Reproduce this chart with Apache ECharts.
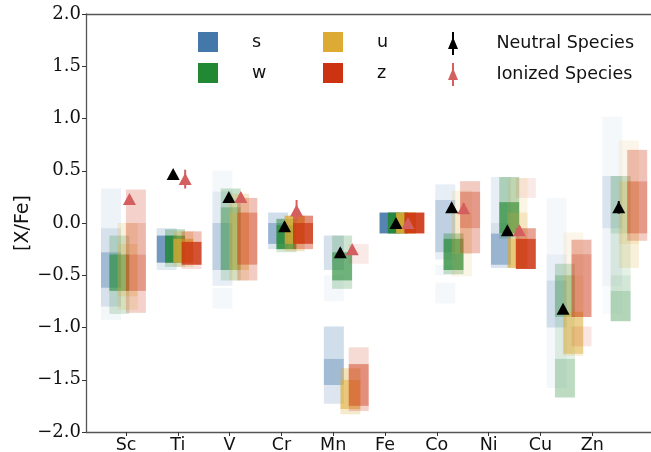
<!DOCTYPE html>
<html><head><meta charset="utf-8">
<script src="https://cdn.jsdelivr.net/npm/echarts@6/dist/echarts.min.js"></script>
<style>html,body{margin:0;padding:0;background:#fff}#c{width:651px;height:452px}</style>
</head><body><div id="c"></div>
<script>
// ---------------- data ----------------
const elements = ['Sc','Ti','V','Cr','Mn','Fe','Co','Ni','Cu','Zn'];
const bandNames = ['s','w','u','z'];
const bandColors = ['#4477AA','#228833','#DDAA33','#CC3311'];
const yTicks = [-2.0,-1.5,-1.0,-0.5,0.0,0.5,1.0,1.5,2.0];

// distribution segments per element: [top, bottom, density]
const sSegs = [
  [[0.33,-0.05,0.09],[-0.05,-0.28,0.22],[-0.28,-0.62,0.5],[-0.62,-0.8,0.22],[-0.8,-0.93,0.06]],
  [[-0.05,-0.12,0.2],[-0.12,-0.38,0.75],[-0.38,-0.45,0.15]],
  [[0.5,0.3,0.05],[0.3,0.0,0.15],[0.0,-0.45,0.35],[-0.45,-0.6,0.12],[-0.62,-0.82,0.05]],
  [[0.1,0.0,0.25],[0.0,-0.2,0.55],[-0.2,-0.25,0.2]],
  [[-0.12,-0.45,0.22],[-0.5,-0.75,0.05],[-0.99,-1.3,0.25],[-1.3,-1.55,0.5],[-1.55,-1.73,0.18]],
  [[0.1,-0.1,0.9]],
  [[0.37,0.22,0.12],[0.22,-0.28,0.35],[-0.28,-0.35,0.12],[-0.4,-0.5,0.05],[-0.57,-0.77,0.05]],
  [[0.44,0.0,0.12],[0.0,-0.1,0.22],[-0.1,-0.4,0.55],[-0.4,-0.43,0.2]],
  [[0.24,-0.3,0.05],[-0.3,-0.55,0.12],[-0.55,-1.0,0.25],[-1.0,-1.58,0.05]],
  [[1.02,0.45,0.05],[0.45,-0.05,0.2],[-0.05,-0.6,0.08],[-0.6,-0.87,0.04]]
];
const wSegs = [
  [[-0.12,-0.3,0.22],[-0.3,-0.65,0.65],[-0.65,-0.87,0.18]],
  [[-0.06,-0.12,0.3],[-0.12,-0.38,0.85],[-0.38,-0.42,0.2]],
  [[0.33,0.15,0.25],[0.15,-0.45,0.5],[-0.45,-0.55,0.18]],
  [[0.04,-0.02,0.5],[-0.02,-0.25,0.85],[-0.25,-0.28,0.2]],
  [[-0.12,-0.28,0.22],[-0.28,-0.55,0.65],[-0.55,-0.63,0.22]],
  [[0.1,-0.1,0.9]],
  [[-0.1,-0.15,0.35],[-0.15,-0.45,0.75],[-0.45,-0.49,0.25]],
  [[0.44,0.2,0.3],[0.2,-0.1,0.75],[-0.1,-0.15,0.2]],
  [[-0.39,-0.5,0.22],[-0.5,-0.9,0.4],[-0.9,-1.3,0.12],[-1.3,-1.67,0.3]],
  [[0.45,-0.1,0.25],[-0.1,-0.5,0.12],[-0.5,-0.65,0.2],[-0.65,-0.94,0.35]]
];
const uSegs = [
  [[0.0,-0.2,0.18],[-0.2,-0.7,0.35],[-0.7,-0.83,0.18]],
  [[-0.08,-0.15,0.3],[-0.15,-0.38,0.8],[-0.38,-0.42,0.2]],
  [[0.28,0.1,0.25],[0.1,-0.45,0.45],[-0.45,-0.55,0.18]],
  [[0.07,-0.2,0.8],[-0.2,-0.27,0.3]],
  [[-1.39,-1.5,0.35],[-1.5,-1.78,0.65],[-1.78,-1.83,0.25]],
  [[0.1,-0.1,0.9]],
  [[0.31,0.1,0.12],[0.1,-0.3,0.25],[-0.3,-0.51,0.12]],
  [[0.43,0.1,0.12],[0.1,-0.15,0.3],[-0.15,-0.43,0.65]],
  [[-0.09,-0.5,0.1],[-0.5,-0.85,0.22],[-0.85,-1.25,0.55],[-1.25,-1.27,0.2]],
  [[0.79,0.4,0.1],[0.4,-0.2,0.3],[-0.2,-0.43,0.18]]
];
const zSegs = [
  [[0.32,0.0,0.22],[0.0,-0.3,0.35],[-0.3,-0.65,0.5],[-0.65,-0.86,0.22]],
  [[-0.08,-0.18,0.3],[-0.18,-0.4,0.85],[-0.4,-0.44,0.15]],
  [[0.24,0.1,0.3],[0.1,-0.4,0.55],[-0.4,-0.55,0.25]],
  [[0.07,0.0,0.55],[0.0,-0.2,0.85],[-0.2,-0.25,0.4]],
  [[-0.2,-0.39,0.1],[-1.19,-1.35,0.18],[-1.35,-1.75,0.55],[-1.75,-1.8,0.22]],
  [[0.1,-0.1,0.9]],
  [[0.4,0.3,0.25],[0.3,-0.05,0.5],[-0.05,-0.29,0.3]],
  [[0.43,0.24,0.1],[-0.05,-0.15,0.45],[-0.15,-0.44,0.85]],
  [[-0.16,-0.3,0.35],[-0.3,-0.9,0.5],[-0.99,-1.18,0.12]],
  [[0.7,0.4,0.3],[0.4,-0.1,0.5],[-0.1,-0.17,0.25]]
];
const neutral    = [null, 0.47, 0.25, -0.03, -0.28, 0.0, 0.15, -0.07, -0.82, 0.15];
const neutralErr = [null, 0.02, 0.03, 0.04, 0.04, 0.02, 0.04, 0.03, 0.03, 0.06];
const ionized    = [0.23, 0.42, 0.25, 0.12, -0.25, 0.0, 0.14, -0.07, null, null];
const ionizedErr = [0.02, 0.09, 0.04, 0.10, 0.03, 0.02, 0.05, 0.04, null, null];

// ---------------- layout (not data) ----------------
const GROUP_STEP = 1.0753, GROUP_SHIFT = -0.049, COL_STEP = 0.16, COL_W = 0.386;
const NEU_OFF = -0.116, ION_OFF = 0.116;
const ION_COLOR = '#d35f5f';
const allSegs = [sSegs, wSegs, uSegs, zSegs];

function rgba(hex, a){
  const n = parseInt(hex.slice(1),16);
  return 'rgba('+((n>>16)&255)+','+((n>>8)&255)+','+(n&255)+','+a+')';
}

const series = [];
allSegs.forEach((segs, b) => {
  const data = [];
  segs.forEach((list, i) => list.forEach(s => data.push([i, s[0], s[1], s[2]])));
  series.push({
    name: bandNames[b], type: 'custom', itemStyle: {color: bandColors[b]},
    encode: {x: 0, y: [1,2]}, silent: true, z: 2 + b,
    renderItem: function(params, api){
      const i = api.value(0), top = api.value(1), bot = api.value(2), d = api.value(3);
      const xc = i*GROUP_STEP + GROUP_SHIFT + (b-1.5)*COL_STEP;
      const p1 = api.coord([xc - COL_W/2, top]);
      const p2 = api.coord([xc + COL_W/2, bot]);
      return {type:'rect', shape:{x:p1[0], y:p1[1], width:p2[0]-p1[0], height:p2[1]-p1[1]},
              style:{fill: rgba(bandColors[b], d)}};
    },
    data: data
  });
});

function errSeries(vals, errs, off, color){
  const data = [];
  vals.forEach((v,i)=>{ if(v!==null) data.push([i, v, errs[i]]); });
  return {type:'custom', silent:true, z: 8, encode:{x:0,y:1},
    renderItem: function(params, api){
      const i = api.value(0), v = api.value(1), e = api.value(2);
      const x = i*GROUP_STEP + GROUP_SHIFT + off;
      const a = api.coord([x, v+e]), c = api.coord([x, v-e]);
      return {type:'line', shape:{x1:a[0],y1:a[1],x2:c[0],y2:c[1]}, style:{stroke:color, lineWidth:2}};
    }, data: data};
}
function ptSeries(name, vals, off, color){
  const data = [];
  vals.forEach((v,i)=>{ if(v!==null) data.push([i*GROUP_STEP + GROUP_SHIFT + off, v]); });
  return {name:name, type:'scatter', symbol:'triangle', symbolSize:[13,12], z: 10,
    itemStyle:{color:color, opacity:1}, silent:true, data:data};
}
series.push(errSeries(neutral, neutralErr, NEU_OFF, '#000'));
series.push(errSeries(ionized, ionizedErr, ION_OFF, ION_COLOR));
series.push(ptSeries('Neutral Species', neutral, NEU_OFF, '#000'));
series.push(ptSeries('Ionized Species', ionized, ION_OFF, ION_COLOR));

const triIcon = 'path://M4,0L6,0L6,23L4,23Z M5,5L10,17L0,17Z';
const legText = {fontFamily:'DejaVu Sans', fontSize:17.5, color:'#111'};
function legend(names, left, pad, iw, ih, gap, icon){
  return {orient:'vertical', left:left, top:32, padding:0, itemWidth:iw, itemHeight:ih, itemGap:gap,
    icon:icon, selectedMode:false, data:names,
    formatter: n => '{a|'+n+'}',
    textStyle: Object.assign({}, legText, {rich:{a:Object.assign({}, legText, {padding:[0,0,0,pad]})}})};
}

const axisLineStyle = {color:'#555', width:1.3};
const option = {
  animation:false,
  grid:{left:86, right:0, top:14, bottom:20, containLabel:false, outerBoundsMode:'none'},
  legend:[
    legend(['s','w'], 198, 29, 20, 20, 11, 'rect'),
    legend(['u','z'], 323, 29, 20, 20, 11, 'rect'),
    legend(['Neutral Species','Ionized Species'], 448, 33, 11, 23, 8, triIcon)
  ],
  xAxis:[{
    type:'value', min:-0.772, max:10.135, position:'bottom',
    axisLine:{show:true, onZero:false, lineStyle:axisLineStyle},
    axisTick:{show:true, customValues:[0,1,2,3,4,5,6,7,8,9], length:4, lineStyle:{color:'#333'}},
    axisLabel:{show:true, customValues:[0,1,2,3,4,5,6,7,8,9], margin:4,
      formatter: v => elements[Math.round(v)] || '',
      fontFamily:'DejaVu Sans', fontSize:17.5, color:'#111'},
    splitLine:{show:false}
  },{
    type:'value', min:-0.772, max:10.135, position:'top',
    axisLine:{show:true, onZero:false, lineStyle:axisLineStyle},
    axisTick:{show:false}, axisLabel:{show:false}, splitLine:{show:false}
  }],
  yAxis:{
    type:'value', min:-2, max:2, interval:0.5, position:'left',
    name:'[X/Fe]', nameLocation:'middle', nameGap:53, nameRotate:90, nameMoveOverlap:false,
    nameTextStyle:{fontFamily:'DejaVu Sans', fontSize:19, color:'#111'},
    axisLine:{show:true, onZero:false, lineStyle:axisLineStyle},
    axisTick:{show:true, length:4, lineStyle:{color:'#333'}},
    axisLabel:{margin:5, fontFamily:'DejaVu Serif', fontSize:18, color:'#111',
      formatter: v => (v<0?'\u2212':'') + Math.abs(v).toFixed(1)},
    splitLine:{show:false}
  },
  series: series
};
const chart = echarts.init(document.getElementById('c'), null, {renderer:'canvas'});
chart.setOption(option);
</script></body></html>
